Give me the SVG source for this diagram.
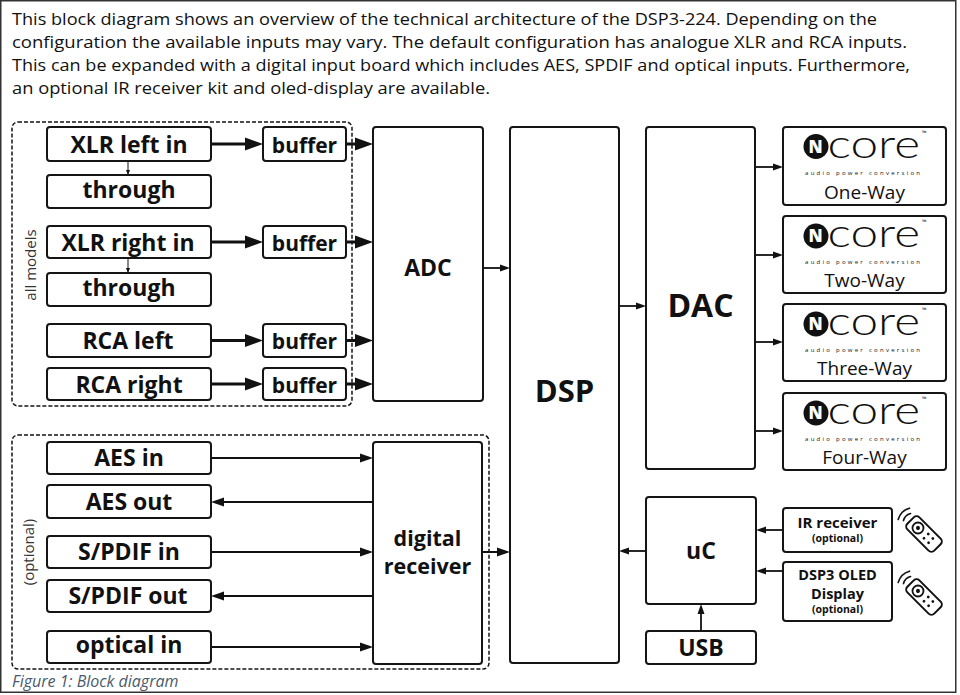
<svg xmlns="http://www.w3.org/2000/svg" width="960" height="695" viewBox="0 0 960 695">
<style>
.para{font-family:"Open Sans","Liberation Sans",sans-serif;font-size:17px;fill:#111}
.box{fill:#fff;stroke:#151515;stroke-width:2}
.dash{fill:none;stroke:#151515;stroke-width:1.5;stroke-dasharray:4 2}
.lb{font-family:"Open Sans","Liberation Sans",sans-serif;font-weight:700;fill:#111;text-anchor:middle}
.side{font-family:"Open Sans","Liberation Sans",sans-serif;font-size:15px;fill:#333;text-anchor:middle}
.way{font-family:"Open Sans","Liberation Sans",sans-serif;font-size:19px;fill:#111;text-anchor:middle}
.core{font-family:Lato,"Open Sans",sans-serif;font-weight:300;font-size:40px;fill:#111}
.apc{font-family:"Open Sans","Liberation Sans",sans-serif;font-size:6px;fill:#111}
.nn{font-family:"Open Sans","Liberation Sans",sans-serif;font-weight:800;font-size:17px;fill:#fff;text-anchor:middle}
.big{stroke:#111;stroke-width:3;fill:none}
.med{stroke:#111;stroke-width:2;fill:none}
.sm{stroke:#111;stroke-width:1.8;fill:none}
.tn{stroke:#111;stroke-width:1;fill:none}
.rem{fill:#fff;stroke:#111;stroke-width:2}
</style>
<defs>
<marker id="mb" markerUnits="userSpaceOnUse" markerWidth="18" markerHeight="14" refX="10" refY="7" orient="auto"><path d="M0,0.5 L18,7 L0,13.5 z" fill="#111"/></marker>
<marker id="mm" markerUnits="userSpaceOnUse" markerWidth="13" markerHeight="10" refX="8" refY="5" orient="auto"><path d="M0,0.5 L13,5 L0,9.5 z" fill="#111"/></marker>
<marker id="ms" markerUnits="userSpaceOnUse" markerWidth="10" markerHeight="8" refX="6" refY="4" orient="auto"><path d="M0,0.5 L10,4 L0,7.5 z" fill="#111"/></marker>
<marker id="mt" markerUnits="userSpaceOnUse" markerWidth="5" markerHeight="4" refX="5" refY="2" orient="auto"><path d="M0,0 L5,2 L0,4 z" fill="#111"/></marker>
<g id="ncorelogo">
<circle cx="0" cy="0" r="12.5" fill="#111"/>
<text class="nn" x="-0.5" y="6.2">N</text>
<text class="core" x="11.5" y="11" textLength="92.5" lengthAdjust="spacingAndGlyphs">core</text>
<text class="apc" x="106" y="-12" font-size="5">™</text>
<text class="apc" x="-11" y="28" textLength="115" lengthAdjust="spacing">audio power conversion</text>
</g>
<g id="remote">
<rect x="-8.5" y="-19" width="17" height="38" rx="4" class="rem"/>
<circle cx="0" cy="-8.5" r="5.5" fill="none" stroke="#111" stroke-width="1.8"/>
<circle cx="0" cy="-8.5" r="2" fill="#111"/>
<circle cx="-3" cy="3" r="1.4" fill="#111"/>
<circle cx="3" cy="3" r="1.4" fill="#111"/>
<circle cx="-3" cy="9.5" r="1.4" fill="#111"/>
<circle cx="3" cy="9.5" r="1.4" fill="#111"/>
<path d="M-5,-24 Q0,-27 5,-24 M-8,-28.5 Q0,-33 8,-28.5" fill="none" stroke="#111" stroke-width="1.6" stroke-linecap="round"/>
</g>
</defs>

<rect x="0.75" y="0.75" width="955" height="691.5" fill="#fff" stroke="#333" stroke-width="1.5"/>

<g id="intro">
<text class="para" x="12" y="24.5" textLength="865" lengthAdjust="spacingAndGlyphs">This block diagram shows an overview of the technical architecture of the DSP3-224. Depending on the</text>
<text class="para" x="12" y="47.5" textLength="895" lengthAdjust="spacingAndGlyphs">configuration the available inputs may vary. The default configuration has analogue XLR and RCA inputs.</text>
<text class="para" x="12" y="70.5" textLength="898" lengthAdjust="spacingAndGlyphs">This can be expanded with a digital input board which includes AES, SPDIF and optical inputs. Furthermore,</text>
<text class="para" x="12" y="93.5" textLength="478" lengthAdjust="spacingAndGlyphs">an optional IR receiver kit and oled-display are available.</text>
</g>

<g id="group-all-models">
<rect class="dash" x="12" y="122" width="340" height="284" rx="6"/>
<text class="side" transform="translate(36,265) rotate(-90)">all models</text>
</g>
<g id="group-optional">
<rect class="dash" x="12" y="435" width="477" height="234" rx="6"/>
<text class="side" transform="translate(34,552) rotate(-90)">(optional)</text>
</g>

<g id="connectors">
<line class="big" x1="211" y1="144" x2="255" y2="144" marker-end="url(#mb)"/>
<line class="big" x1="211" y1="242" x2="255" y2="242" marker-end="url(#mb)"/>
<line class="big" x1="211" y1="340.5" x2="255" y2="340.5" marker-end="url(#mb)"/>
<line class="big" x1="211" y1="384" x2="255" y2="384" marker-end="url(#mb)"/>
<line class="big" x1="346" y1="144" x2="365" y2="144" marker-end="url(#mb)"/>
<line class="big" x1="346" y1="242" x2="365" y2="242" marker-end="url(#mb)"/>
<line class="big" x1="346" y1="340.5" x2="365" y2="340.5" marker-end="url(#mb)"/>
<line class="big" x1="346" y1="384" x2="365" y2="384" marker-end="url(#mb)"/>
<line class="tn" x1="128" y1="161" x2="128" y2="175" marker-end="url(#mt)"/>
<line class="tn" x1="128" y1="258" x2="128" y2="273" marker-end="url(#mt)"/>
<line class="med" x1="211" y1="458" x2="368" y2="458" marker-end="url(#mm)"/>
<line class="med" x1="373" y1="502" x2="216" y2="502" marker-end="url(#mm)"/>
<line class="med" x1="211" y1="552" x2="368" y2="552" marker-end="url(#mm)"/>
<line class="med" x1="373" y1="596" x2="216" y2="596" marker-end="url(#mm)"/>
<line class="med" x1="211" y1="647" x2="368" y2="647" marker-end="url(#mm)"/>
<line class="med" x1="482" y1="552" x2="505" y2="552" marker-end="url(#mm)"/>
<line class="sm" x1="483" y1="268" x2="506" y2="268" marker-end="url(#ms)"/>
<line class="sm" x1="619" y1="306" x2="642" y2="306" marker-end="url(#ms)"/>
<line class="sm" x1="755" y1="167" x2="779" y2="167" marker-end="url(#ms)"/>
<line class="sm" x1="755" y1="255" x2="779" y2="255" marker-end="url(#ms)"/>
<line class="sm" x1="755" y1="342" x2="779" y2="342" marker-end="url(#ms)"/>
<line class="sm" x1="755" y1="431" x2="779" y2="431" marker-end="url(#ms)"/>
<line class="sm" x1="646" y1="551" x2="623" y2="551" marker-end="url(#ms)"/>
<line class="sm" x1="783" y1="530" x2="760" y2="530" marker-end="url(#ms)"/>
<line class="sm" x1="783" y1="571" x2="760" y2="571" marker-end="url(#ms)"/>
<line class="sm" x1="701" y1="631" x2="701" y2="608" marker-end="url(#ms)"/>
</g>

<g id="xlr-left-in"><rect class="box" x="47" y="127" width="164" height="34" rx="3"/><text class="lb" x="129" y="152.5" font-size="23">XLR left in</text></g>
<g id="through-1"><rect class="box" x="47" y="175" width="164" height="33" rx="3"/><text class="lb" x="129" y="197.5" font-size="23">through</text></g>
<g id="xlr-right-in"><rect class="box" x="47" y="226" width="164" height="32" rx="3"/><text class="lb" x="128" y="250.5" font-size="23">XLR right in</text></g>
<g id="through-2"><rect class="box" x="47" y="273" width="164" height="33" rx="3"/><text class="lb" x="129" y="295.5" font-size="23">through</text></g>
<g id="rca-left"><rect class="box" x="47" y="324" width="164" height="33" rx="3"/><text class="lb" x="128" y="349" font-size="23">RCA left</text></g>
<g id="rca-right"><rect class="box" x="47" y="368" width="164" height="32" rx="3"/><text class="lb" x="129" y="392.5" font-size="23">RCA right</text></g>

<g id="buffer-1"><rect class="box" x="263" y="127" width="83" height="34" rx="3"/><text class="lb" x="304.5" y="152.5" font-size="21">buffer</text></g>
<g id="buffer-2"><rect class="box" x="263" y="226" width="83" height="32" rx="3"/><text class="lb" x="304.5" y="250.5" font-size="21">buffer</text></g>
<g id="buffer-3"><rect class="box" x="263" y="324" width="83" height="33" rx="3"/><text class="lb" x="304.5" y="349" font-size="21">buffer</text></g>
<g id="buffer-4"><rect class="box" x="263" y="368" width="83" height="32" rx="3"/><text class="lb" x="304.5" y="392.5" font-size="21">buffer</text></g>

<g id="adc"><rect class="box" x="373" y="127" width="110" height="274" rx="3"/><text class="lb" x="428" y="276" font-size="23">ADC</text></g>
<g id="dsp"><rect class="box" x="510" y="127" width="109" height="536" rx="3"/><text class="lb" x="564.5" y="402" font-size="31">DSP</text></g>
<g id="dac"><rect class="box" x="646" y="127" width="109" height="342" rx="3"/><text class="lb" x="700.5" y="317" font-size="32">DAC</text></g>

<g id="ncore-one-way"><rect class="box" x="783" y="127" width="163" height="78" rx="3"/><use href="#ncorelogo" x="816" y="146.5"/><text class="way" x="864.5" y="199">One-Way</text></g>
<g id="ncore-two-way"><rect class="box" x="783" y="216" width="163" height="77" rx="3"/><use href="#ncorelogo" x="816" y="236"/><text class="way" x="864.5" y="287">Two-Way</text></g>
<g id="ncore-three-way"><rect class="box" x="783" y="304" width="163" height="77" rx="3"/><use href="#ncorelogo" x="816" y="324"/><text class="way" x="864.5" y="375">Three-Way</text></g>
<g id="ncore-four-way"><rect class="box" x="783" y="393" width="163" height="77" rx="3"/><use href="#ncorelogo" x="816" y="413"/><text class="way" x="864.5" y="464">Four-Way</text></g>

<g id="uc"><rect class="box" x="646" y="497" width="110" height="107" rx="3"/><text class="lb" x="701" y="559" font-size="23">uC</text></g>
<g id="usb"><rect class="box" x="646" y="631" width="110" height="33" rx="3"/><text class="lb" x="701" y="656" font-size="23">USB</text></g>

<g id="ir-receiver"><rect class="box" x="783" y="508" width="109" height="44" rx="3"/><text class="lb" x="837.5" y="528" font-size="15">IR receiver</text><text class="lb" x="837.5" y="541.5" font-size="10.5">(optional)</text></g>
<g id="oled-display"><rect class="box" x="783" y="562" width="109" height="59" rx="3"/><text class="lb" x="837.5" y="579.5" font-size="14.5">DSP3 OLED</text><text class="lb" x="837.5" y="598.5" font-size="14.5">Display</text><text class="lb" x="837.5" y="612.5" font-size="10.5">(optional)</text></g>

<g id="remote-icons">
<use href="#remote" transform="translate(924,534) rotate(-45)"/>
<use href="#remote" transform="translate(924,597) rotate(-45)"/>
</g>

<g id="aes-in"><rect class="box" x="47" y="442" width="164" height="32" rx="3"/><text class="lb" x="129" y="466" font-size="23">AES in</text></g>
<g id="aes-out"><rect class="box" x="47" y="485" width="164" height="33" rx="3"/><text class="lb" x="129" y="509.5" font-size="23">AES out</text></g>
<g id="spdif-in"><rect class="box" x="47" y="536" width="164" height="32" rx="3"/><text class="lb" x="129" y="560" font-size="23">S/PDIF in</text></g>
<g id="spdif-out"><rect class="box" x="47" y="580" width="164" height="32" rx="3"/><text class="lb" x="128" y="604" font-size="23">S/PDIF out</text></g>
<g id="optical-in"><rect class="box" x="47" y="631" width="164" height="32" rx="3"/><text class="lb" x="129" y="653" font-size="23">optical in</text></g>

<g id="digital-receiver"><rect class="box" x="373" y="442" width="109" height="222" rx="3"/><text class="lb" x="427.5" y="546" font-size="21.5">digital</text><text class="lb" x="427.5" y="574" font-size="21.5">receiver</text></g>

<text x="12" y="687" font-family="'Open Sans','Liberation Sans',sans-serif" font-style="italic" font-size="16" fill="#4a5a6c">Figure 1: Block diagram</text>
</svg>
